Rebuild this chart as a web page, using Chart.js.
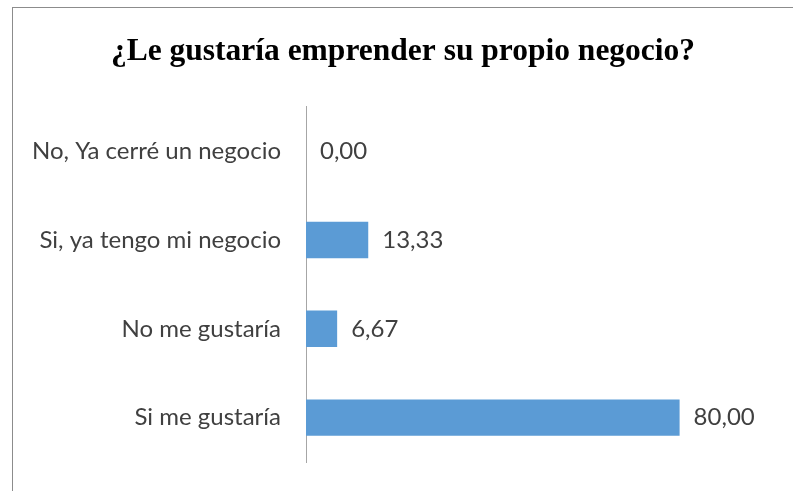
<!DOCTYPE html>
<html>
<head>
<meta charset="utf-8">
<script src="https://cdn.jsdelivr.net/npm/chart.js@4"></script>
<style>
    html, body { margin: 0; padding: 0; background: #fff; }
    #frame {
        position: absolute; left: 12px; top: 7px;
        width: 781px; height: 484px;
        border-top: 1px solid #8c8c8c;
        border-left: 1px solid #8c8c8c;
    }
</style>
</head>
<body>
<div id="frame"><canvas id="chart" width="780" height="483"></canvas></div>
<script>
// --- DATA ---
const categories = ["No, Ya cerré un negocio", "Si, ya tengo mi negocio", "No me gustaría", "Si me gustaría"];
const values = [0.00, 13.33, 6.67, 80.00];
const titleText = "¿Le gustaría emprender su propio negocio?";

const labelFont = { family: "Lato", size: 24 };
const textColor = "#404040";

// etiquetas de valor a la derecha de cada barra
const valueLabels = {
    id: "valueLabels",
    afterDatasetsDraw(chart) {
        const ctx = chart.ctx;
        const meta = chart.getDatasetMeta(0);
        ctx.save();
        ctx.font = labelFont.size + "px " + labelFont.family;
        ctx.fillStyle = textColor;
        ctx.textAlign = "left";
        ctx.textBaseline = "middle";
        meta.data.forEach((bar, i) => {
            const txt = values[i].toFixed(2).replace(".", ",");
            ctx.fillText(txt, bar.x + 14, bar.y);
        });
        ctx.restore();
    }
};

new Chart(document.getElementById("chart"), {
    type: "bar",
    data: {
        labels: categories,
        datasets: [{
            data: values,
            backgroundColor: "#5B9BD5",
            barPercentage: 0.41,
            categoryPercentage: 1
        }]
    },
    options: {
        indexAxis: "y",
        responsive: false,
        animation: false,
        layout: { padding: { top: 0, right: 20, bottom: 29, left: 20 } },
        plugins: {
            legend: { display: false },
            tooltip: { enabled: false },
            title: {
                display: true,
                text: titleText,
                color: "#000",
                font: { family: "Liberation Serif", size: 31.5, weight: "bold" },
                padding: { top: 25, bottom: 36 }
            }
        },
        scales: {
            x: { display: false, min: 0, max: 100 },
            y: {
                afterFit: s => {
                    s.width = 273;
                    s.paddingTop = 0;
                    s.paddingBottom = 0;
                },
                grid: { display: false, drawTicks: false },
                border: { display: true, color: "#a6a6a6", width: 1 },
                ticks: { color: textColor, font: labelFont, padding: 25 }
            }
        }
    },
    plugins: [valueLabels]
});
</script>
</body>
</html>
